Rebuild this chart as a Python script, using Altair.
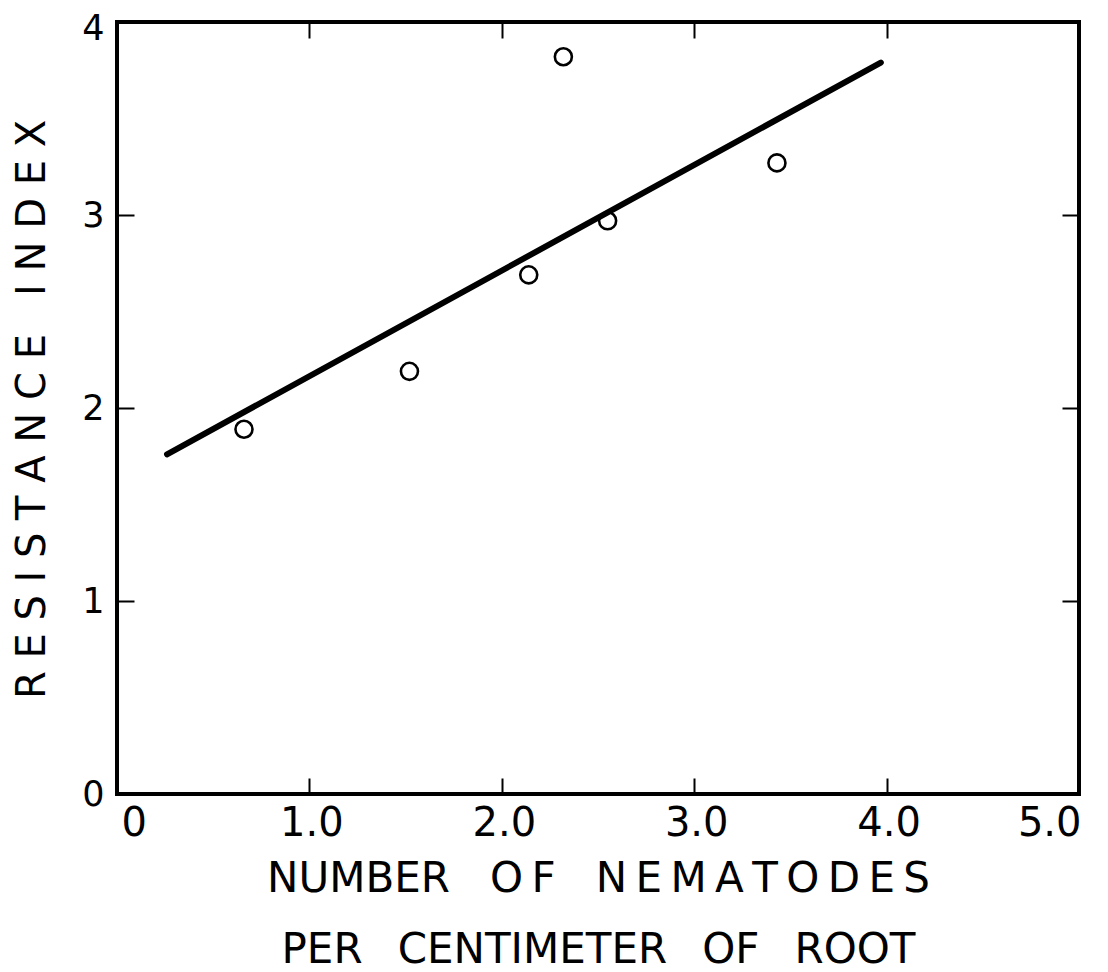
import altair as alt
import pandas as pd

# ---- data ----
nematodes = [0.66, 1.52, 2.14, 2.32, 2.55, 3.43]
resistance = [1.89, 2.19, 2.69, 3.82, 2.97, 3.27]
fit_x = [0.26, 3.97]
fit_y = [1.76, 3.79]
x_label_values = [0, 1, 2, 3, 4, 5]
y_label_values = [0, 1, 2, 3, 4]
x_inner_ticks = [1, 2, 3, 4]
y_inner_ticks = [1, 2, 3]

NB = "\u00a0"
TH = "\u2009"
x_title_1 = "NUMBER" + NB * 3 + TH.join("OF") + NB * 3 + TH.join("NEMATODES")
x_title_2 = (NB * 2 + TH).join(["PER", "CENTIMETER", "OF", "ROOT"])
y_title = (NB * 3).join([NB.join("RESISTANCE"), NB.join("INDEX")])

FONT = "DejaVu Sans"

pts = pd.DataFrame({"x": nematodes, "y": resistance})
fit = pd.DataFrame({"x": fit_x, "y": fit_y})

xs = alt.Scale(domain=[0, 5], nice=False, zero=False)
ys = alt.Scale(domain=[0, 4], nice=False, zero=False)

points = alt.Chart(pts).mark_point(
    shape="circle", filled=False, color="black", size=290, strokeWidth=2.6, opacity=1
).encode(
    x=alt.X("x:Q", scale=xs, axis=alt.Axis(
        orient="bottom", values=x_label_values,
        labelExpr="datum.value == 0 ? '0' : format(datum.value, '.1f')",
        labelOffset={"condition": {"test": "datum.value == 0", "value": 4}, "value": 2},
        domain=False, ticks=False, grid=False,
        labelFontSize=40, labelFont=FONT, labelColor="black", labelPadding=9,
        title=[x_title_1, x_title_2], titleFontSize=42, titleFont=FONT,
        titleFontWeight="normal", titleColor="black", titleLineHeight=71,
        titleY=64, titleBaseline="top")),
    y=alt.Y("y:Q", scale=ys, axis=alt.Axis(
        orient="left", values=y_label_values, format="d",
        domain=False, ticks=False, grid=False,
        labelFontSize=35, labelFont=FONT, labelColor="black", labelPadding=13,
        labelOffset={"condition": {"test": "datum.value == 4", "value": 6}, "value": 0},
        title=y_title, titleFontSize=40, titleFont=FONT, titleFontWeight="normal",
        titleColor="black", titleX=-85, titleY=387, titleBaseline="middle", titleAngle=270)),
)

line = alt.Chart(fit).mark_line(color="black", strokeWidth=6, strokeCap="round").encode(
    x=alt.X("x:Q", scale=xs, axis=alt.Axis(
        orient="top", offset=-16, values=x_inner_ticks, ticks=True, tickSize=16,
        tickWidth=2, tickColor="black", labels=False, domain=False, grid=False, title=None)),
    y=alt.Y("y:Q", scale=ys, axis=alt.Axis(
        orient="right", offset=-17, values=y_inner_ticks, ticks=True, tickSize=17,
        tickWidth=2, tickColor="black", labels=False, domain=False, grid=False, title=None)),
)

inner = alt.Chart(pts).mark_point(opacity=0).encode(
    x=alt.X("x:Q", scale=xs, axis=alt.Axis(
        orient="bottom", offset=-16, values=x_inner_ticks, ticks=True, tickSize=16,
        tickWidth=2, tickColor="black", labels=False, domain=False, grid=False, title=None)),
    y=alt.Y("y:Q", scale=ys, axis=alt.Axis(
        orient="left", offset=-17, values=y_inner_ticks, ticks=True, tickSize=17,
        tickWidth=2, tickColor="black", labels=False, domain=False, grid=False, title=None)),
)

chart = alt.layer(points, line, inner).resolve_axis(x="independent", y="independent").properties(
    width=962, height=772,
    autosize=alt.AutoSizeParams(type="none"),
    padding={"left": 109, "top": 14, "right": 20, "bottom": 178},
    background="white",
).configure_view(stroke="black", strokeWidth=4)

chart.save("out.html", embed_options={"renderer": "svg", "actions": False})
